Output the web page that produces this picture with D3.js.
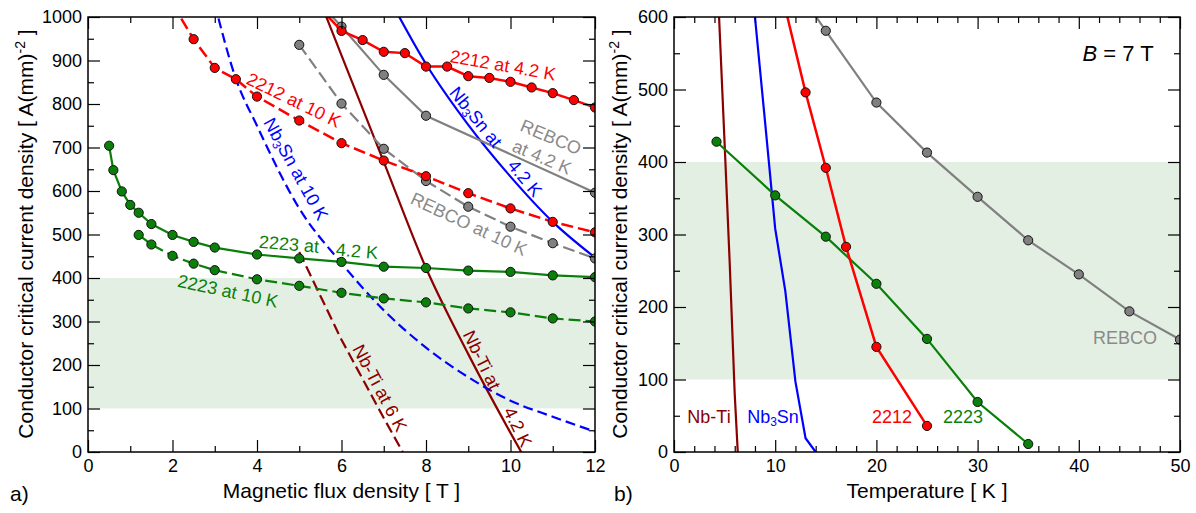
<!DOCTYPE html>
<html>
<head>
<meta charset="utf-8">
<script src="https://cdn.jsdelivr.net/npm/d3@7"></script>
<style>
  body { margin: 0; background: #fff; }
  svg text { font-family: "Liberation Sans", Arial, Helvetica, sans-serif; }
</style>
</head>
<body>
<svg id="chart" width="1196" height="513"></svg>
<script>
// shaded "useful" band (both panels)
const bandJc = [100, 400];

// ---- panel a) Jc [A/mm2] vs magnetic flux density B [T] ----
const b2212_42K = [[5.5,1020],[6,968],[6.5,947],[7,920],[7.5,917],[8,886],[8.5,886],[9,864],[9.5,860],[10,851],[10.5,838],[11,825],[11.5,809],[12,792]];
const b2212_10K = [[2,1030],[2.5,949],[3,883],[3.5,857],[4,817],[5,762],[6,710],[7,670],[8,634],[9,595],[10,560],[11,529],[12,505]];
const bRebco_42K = [[5.5,1030],[6,978],[7,867],[8,773],[12,596]];
const bRebco_10K = [[5,936],[6,801],[7,697],[8,623],[9,564],[10,518],[11,480],[12,445]];
const b2223_42K = [[0.5,704],[0.6,648],[0.8,599],[1,568],[1.2,550],[1.5,524],[2,499],[2.5,483],[3,470],[4,454],[5,445],[6,437],[7,426],[8,423],[9,417],[10,414],[11,406],[12,402]];
const b2223_10K = [[1.2,499],[1.5,477],[2,451],[2.5,433],[3,418],[4,397],[5,382],[6,366],[7,353],[8,344],[9,330],[10,321],[11,307],[12,300]];
const bNb3Sn_42K = [[7.2,1030],[8,892],[9,752],[10,633],[11,529],[12,447]];
const bNb3Sn_10K = [[3,1030],[3.5,858],[4,750],[5,560],[6,434],[7,326],[8,240],[9,172],[10,118],[11,81],[12,47]];
const bNbTi_42K = [[5.5,1035],[6,912],[7,667],[8,423],[9,225],[10,44],[10.3,-8]];
const bNbTi_6K = [[5,460],[6,258],[7,78],[7.45,0]];

// ---- panel b) Jc [A/mm2] vs temperature T [K] at B = 7 T ----
const tRebco = [[14,601],[15,581],[20,482],[25,413],[30,352],[35,292],[40,245],[45,194],[50,155]];
const t2212 = [[11,612],[13,496],[15,392],[17,283],[20,145],[25,36]];
const t2223 = [[4.2,428],[10,354],[15,297],[20,232],[25,156],[30,69],[35,11]];
const tNbTi = [[4.4,617],[5,426],[5.5,262],[6,80],[6.3,0]];
const tNb3Sn = [[8,600],[9,455],[10,308],[11,222],[12,97],[13,19],[14,0]];

const RED = "#ff0000", GREEN = "#0a800a", BLUE = "#0000ff", DKRED = "#8b0000", GRAY = "#808080", TXTGRAY = "#8a8a8a";

const svg = d3.select("#chart");

function panel(opt) {
  const x = d3.scaleLinear().domain(opt.xDom).range([opt.x0, opt.x1]);
  const y = d3.scaleLinear().domain(opt.yDom).range([452, 17]);
  const g = svg.append("g");
  const clipId = "clip" + opt.id;
  svg.append("clipPath").attr("id", clipId)
    .append("rect").attr("x", opt.x0).attr("y", 17)
    .attr("width", opt.x1 - opt.x0).attr("height", 435);

  // band
  g.append("rect")
    .attr("x", opt.x0).attr("width", opt.x1 - opt.x0)
    .attr("y", y(bandJc[1])).attr("height", y(bandJc[0]) - y(bandJc[1]))
    .attr("fill", "#e4efe4");

  const plot = g.append("g").attr("clip-path", "url(#" + clipId + ")");
  opt.series.forEach(s => {
    const line = d3.line().x(d => x(d[0])).y(d => y(d[1]))
      .curve(s.smooth ? d3.curveMonotoneX : d3.curveLinear);
    plot.append("path").datum(s.pts)
      .attr("d", line).attr("fill", "none")
      .attr("stroke", s.color).attr("stroke-width", s.width || 2.2)
      .attr("stroke-dasharray", s.dash || null);
    if (s.marks) {
      plot.selectAll(null)
        .data(s.pts.filter(d => d[1] <= opt.yDom[1] && d[0] >= opt.xDom[0]))
        .enter().append("circle")
        .attr("cx", d => x(d[0])).attr("cy", d => y(d[1])).attr("r", 4.6)
        .attr("fill", s.color).attr("stroke", "#111").attr("stroke-width", 1);
    }
  });

  // axes (inward ticks, mirrored on top/right)
  const axes = g.append("g");
  function addAxis(axisFn, pos, ticks, size, labels) {
    const a = axisFn(pos === "b" || pos === "t" ? x : y)
      .tickValues(ticks).tickSizeInner(-size).tickSizeOuter(0)
      .tickPadding(pos === "b" ? 7 : 6)
      .tickFormat(labels ? d3.format("d") : "");
    const tr = pos === "b" ? `translate(0,452)` : pos === "t" ? `translate(0,17)`
      : pos === "l" ? `translate(${opt.x0},0)` : `translate(${opt.x1},0)`;
    const ag = axes.append("g").attr("transform", tr).call(a);
    ag.select(".domain").remove();
    ag.selectAll("line").attr("stroke", "#000").attr("stroke-width", 1.2);
    ag.selectAll("text").attr("font-size", 18).attr("fill", "#000");
  }
  const xMinor = d3.range(opt.xDom[0], opt.xDom[1] + 0.001, opt.xMinor).filter(v => Math.abs(v / opt.xMajor - Math.round(v / opt.xMajor)) > 1e-6);
  const xMajor = d3.range(opt.xDom[0], opt.xDom[1] + 0.001, opt.xMajor);
  const yMinor = d3.range(50, opt.yDom[1], 100);
  const yMajor = d3.range(0, opt.yDom[1] + 1, 100);
  addAxis(d3.axisBottom, "b", xMinor, 6, false);
  addAxis(d3.axisBottom, "b", xMajor, 12, true);
  addAxis(d3.axisTop, "t", xMinor, 6, false);
  addAxis(d3.axisTop, "t", xMajor, 12, false);
  addAxis(d3.axisLeft, "l", yMinor, 6, false);
  addAxis(d3.axisLeft, "l", yMajor, 12, true);
  addAxis(d3.axisRight, "r", yMinor, 6, false);
  addAxis(d3.axisRight, "r", yMajor, 12, false);

  g.append("rect").attr("x", opt.x0).attr("y", 17)
    .attr("width", opt.x1 - opt.x0).attr("height", 435)
    .attr("fill", "none").attr("stroke", "#000").attr("stroke-width", 1.5);

  // axis titles
  g.append("text").attr("x", (opt.x0 + opt.x1) / 2).attr("y", 498)
    .attr("text-anchor", "middle").attr("font-size", 21).text(opt.xTitle);
  const yt = g.append("text")
    .attr("transform", `translate(${opt.yTitleX},234) rotate(-90)`)
    .attr("text-anchor", "middle").attr("font-size", 21);
  yt.append("tspan").text("Conductor critical current density [ A(mm)");
  yt.append("tspan").attr("font-size", 14).attr("dy", -8).text("-2");
  yt.append("tspan").attr("dy", 8).text(" ]");
  g.append("text").attr("x", opt.tagX).attr("y", 501).attr("font-size", 21).text(opt.tag);
  return g;
}

// rotated label helper; parts: array of [text, isSub]
function label(g, cx, cy, ang, color, parts) {
  const t = g.append("text")
    .attr("transform", `translate(${cx},${cy}) rotate(${ang})`)
    .attr("text-anchor", "middle").attr("dy", "0.35em")
    .attr("font-size", 18).attr("fill", color);
  parts.forEach(p => {
    if (typeof p === "string") t.append("tspan").text(p);
    else t.append("tspan").attr("font-size", 12).attr("baseline-shift", "-25%").text(p.sub);
  });
}

const gA = panel({
  id: "A", x0: 88, x1: 595, xDom: [0, 12], yDom: [0, 1000],
  xMinor: 1, xMajor: 2,
  xTitle: "Magnetic flux density [ T ]", yTitleX: 33, tag: "a)", tagX: 10,
  series: [
    { pts: bNbTi_6K, color: DKRED, dash: "11,5" },
    { pts: bNbTi_42K, color: DKRED, smooth: true },
    { pts: bNb3Sn_10K, color: BLUE, dash: "10,5", smooth: true },
    { pts: bNb3Sn_42K, color: BLUE, smooth: true },
    { pts: bRebco_10K, color: GRAY, dash: "12,5", marks: true },
    { pts: bRebco_42K, color: GRAY, marks: true },
    { pts: b2223_10K, color: GREEN, dash: "12,5", marks: true },
    { pts: b2223_42K, color: GREEN, marks: true },
    { pts: b2212_10K, color: RED, dash: "12,5", marks: true, width: 2.5 },
    { pts: b2212_42K, color: RED, marks: true, width: 2.5 }
  ]
});

label(gA, 503, 65, 10, RED, ["2212 at 4.2 K"]);
label(gA, 294, 100, 26, RED, ["2212 at 10 K"]);
label(gA, 296, 169, 61, BLUE, ["Nb", {sub: "3"}, "Sn at 10 K"]);
label(gA, 476, 117, 51, BLUE, ["Nb", {sub: "3"}, "Sn at"]);
label(gA, 525, 178, 50, BLUE, ["4.2 K"]);
label(gA, 551, 137, 23, TXTGRAY, ["REBCO"]);
label(gA, 542, 157, 23, TXTGRAY, ["at 4.2 K"]);
label(gA, 469, 224, 25, TXTGRAY, ["REBCO at 10 K"]);
label(gA, 289, 244, 5, GREEN, ["2223 at"]);
label(gA, 357, 251, 5, GREEN, ["4.2 K"]);
label(gA, 228, 291, 12, GREEN, ["2223 at 10 K"]);
label(gA, 380, 388, 62, DKRED, ["Nb-Ti at 6 K"]);
label(gA, 482, 360, 64, DKRED, ["Nb-Ti at"]);
label(gA, 518, 427, 64, DKRED, ["4.2 K"]);

const gB = panel({
  id: "B", x0: 674, x1: 1180, xDom: [0, 50], yDom: [0, 600],
  xMinor: 2, xMajor: 10,
  xTitle: "Temperature [ K ]", yTitleX: 627, tag: "b)", tagX: 614,
  series: [
    { pts: tNbTi, color: DKRED },
    { pts: tNb3Sn, color: BLUE },
    { pts: tRebco, color: GRAY, marks: true },
    { pts: t2223, color: GREEN, marks: true },
    { pts: t2212, color: RED, marks: true, width: 2.5 }
  ]
});

label(gB, 709, 417, 0, DKRED, ["Nb-Ti"]);
label(gB, 773, 417, 0, BLUE, ["Nb", {sub: "3"}, "Sn"]);
label(gB, 892, 417, 0, RED, ["2212"]);
label(gB, 963, 417, 0, GREEN, ["2223"]);
label(gB, 1125, 338, 0, TXTGRAY, ["REBCO"]);

const bt = gB.append("text").attr("x", 1118).attr("y", 53).attr("dy", "0.35em")
  .attr("text-anchor", "middle").attr("font-size", 22);
bt.append("tspan").attr("font-style", "italic").text("B");
bt.append("tspan").text(" = 7 T");
</script>
</body>
</html>
